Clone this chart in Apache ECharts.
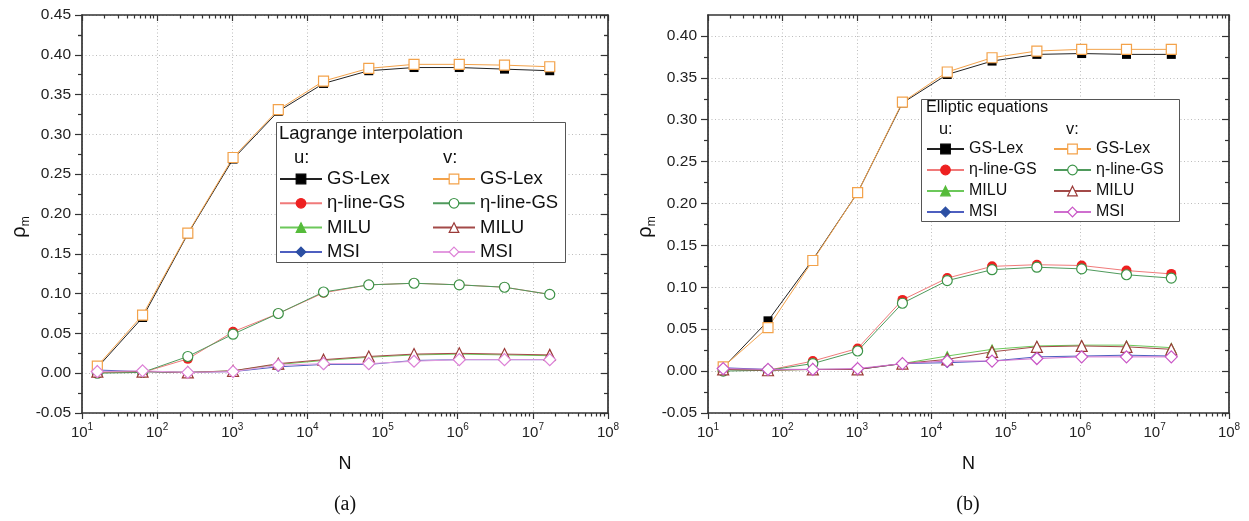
<!DOCTYPE html>
<html>
<head>
<meta charset="utf-8">
<script src="https://cdn.jsdelivr.net/npm/echarts@6/dist/echarts.min.js"></script>
<style>
html,body{margin:0;padding:0;background:#fff;}
#chart{width:1249px;height:521px;}
</style>
</head>
<body>
<div id="chart"></div>
<script>
// ---------------- data ----------------
const N = [16, 64, 256, 1024, 4096, 16384, 65536, 262144, 1048576, 4194304, 16777216];

// panel (a): Lagrange interpolation
const aGsU   = [0.007, 0.070, 0.175, 0.269, 0.329, 0.364, 0.380, 0.384, 0.384, 0.382, 0.380];
const aGsV   = [0.009, 0.073, 0.176, 0.271, 0.331, 0.367, 0.383, 0.388, 0.388, 0.387, 0.385];
const aEtaU  = [0.001, 0.001, 0.018, 0.052, 0.075, 0.101, 0.111, 0.113, 0.111, 0.108, 0.099];
const aEtaV  = [0.000, 0.001, 0.021, 0.049, 0.075, 0.102, 0.111, 0.113, 0.111, 0.108, 0.099];
const aMiluU = [0.002, 0.002, 0.001, 0.003, 0.011, 0.016, 0.020, 0.023, 0.024, 0.023, 0.022];
const aMiluV = [0.002, 0.002, 0.001, 0.003, 0.012, 0.017, 0.021, 0.024, 0.025, 0.024, 0.023];
const aMsiU  = [0.004, 0.002, 0.001, 0.002, 0.008, 0.011, 0.011, 0.016, 0.017, 0.017, 0.017];
const aMsiV  = [0.002, 0.003, 0.001, 0.002, 0.010, 0.012, 0.012, 0.015, 0.017, 0.017, 0.017];

// panel (b): Elliptic equations
const bGsU   = [0.004, 0.060, 0.133, 0.213, 0.320, 0.354, 0.370, 0.378, 0.379, 0.378, 0.378];
const bGsV   = [0.005, 0.052, 0.132, 0.213, 0.321, 0.357, 0.374, 0.382, 0.384, 0.384, 0.384];
const bEtaU  = [0.002, 0.001, 0.012, 0.027, 0.085, 0.111, 0.125, 0.127, 0.126, 0.120, 0.116];
const bEtaV  = [0.000, 0.001, 0.009, 0.024, 0.081, 0.108, 0.121, 0.124, 0.122, 0.115, 0.111];
const bMiluU = [0.002, 0.001, 0.002, 0.002, 0.009, 0.018, 0.026, 0.030, 0.031, 0.031, 0.028];
const bMiluV = [0.002, 0.001, 0.002, 0.002, 0.009, 0.014, 0.023, 0.029, 0.030, 0.029, 0.026];
const bMsiU  = [0.004, 0.002, 0.002, 0.002, 0.009, 0.010, 0.012, 0.017, 0.018, 0.019, 0.018];
const bMsiV  = [0.003, 0.002, 0.002, 0.003, 0.009, 0.012, 0.012, 0.015, 0.017, 0.017, 0.017];

// ticks
const xMajor = [10, 100, 1000, 10000, 100000, 1000000, 10000000, 100000000];
const yMajorA = [-0.05, 0.00, 0.05, 0.10, 0.15, 0.20, 0.25, 0.30, 0.35, 0.40, 0.45];
const yMajorB = [-0.05, 0.00, 0.05, 0.10, 0.15, 0.20, 0.25, 0.30, 0.35, 0.40];
const methods = ['GS-Lex', 'η-line-GS', 'MILU', 'MSI'];

// minor ticks derived from the majors
const xMinor = [];
for (let i = 0; i < xMajor.length - 1; i++) for (let k = 2; k <= 9; k++) xMinor.push(xMajor[i] * k);
const yMinorA = []; for (let i = 0; i < yMajorA.length - 1; i++) yMinorA.push((yMajorA[i] + yMajorA[i + 1]) / 2);
yMinorA.push(0.425);
const yMinorB = []; for (let i = 0; i < yMajorB.length - 1; i++) yMinorB.push((yMajorB[i] + yMajorB[i + 1]) / 2);

// ---------------- styling helpers ----------------
const FF = '"Liberation Sans", Arial, sans-serif';
const AX = '#333';
const tickStyle = { color: AX, width: 1.2 };
const gridLine = { type: [1, 2.5], color: '#bdbdbd', width: 1 };

function xAxesFor(g) {
  const c = { type: 'log', logBase: 10, min: 10, max: 100000000, gridIndex: g };
  return [
    Object.assign({}, c, {
      position: 'bottom', name: 'N', nameLocation: 'middle', nameGap: 42,
      nameTextStyle: { fontSize: 18, color: '#111', fontFamily: FF },
      axisLine: { show: true, onZero: false, lineStyle: { color: AX, width: 1.7 } },
      axisTick: { show: true, inside: false, length: 6, customValues: xMajor, lineStyle: tickStyle },
      axisLabel: {
        customValues: xMajor, margin: 9, color: '#222', fontFamily: FF,
        formatter: v => '{b|10}{s|' + Math.round(Math.log10(v)) + '}',
        rich: {
          b: { fontSize: 15, fontFamily: FF, color: '#222', lineHeight: 18, verticalAlign: 'bottom' },
          s: { fontSize: 10, fontFamily: FF, color: '#222', lineHeight: 10, verticalAlign: 'top' }
        }
      },
      splitLine: { show: true, lineStyle: gridLine }
    }),
    Object.assign({}, c, {
      position: 'bottom',
      axisLine: { show: false, onZero: false },
      axisTick: { show: true, inside: false, length: 3.5, customValues: xMinor, lineStyle: tickStyle },
      axisLabel: { show: false }, splitLine: { show: false }
    }),
    Object.assign({}, c, {
      position: 'top',
      axisLine: { show: true, onZero: false, lineStyle: { color: AX, width: 1.7 } },
      axisTick: { show: true, inside: true, length: 6, customValues: xMajor, lineStyle: tickStyle },
      axisLabel: { show: false }, splitLine: { show: false }
    }),
    Object.assign({}, c, {
      position: 'top',
      axisLine: { show: false, onZero: false },
      axisTick: { show: true, inside: true, length: 3.5, customValues: xMinor, lineStyle: tickStyle },
      axisLabel: { show: false }, splitLine: { show: false }
    })
  ];
}

function yAxesFor(g, max, major, minor, gap) {
  const c = { type: 'value', min: -0.05, max: max, gridIndex: g };
  return [
    Object.assign({}, c, {
      position: 'left',
      name: '{r|ρ}{m|m}', nameLocation: 'middle', nameGap: gap, nameRotate: 90,
      nameTextStyle: {
        padding: [0, 26, 0, 0],
        rich: {
          r: { fontSize: 20, fontFamily: FF, color: '#111', lineHeight: 22, verticalAlign: 'top' },
          m: { fontSize: 12, fontFamily: FF, color: '#111', lineHeight: 12, verticalAlign: 'bottom' }
        }
      },
      axisLine: { show: true, onZero: false, lineStyle: { color: AX, width: 1.7 } },
      axisTick: { show: true, inside: false, length: 7, customValues: major, lineStyle: tickStyle },
      axisLabel: { customValues: major, margin: 11, fontSize: 15.5, color: '#222', fontFamily: FF,
                   formatter: v => v.toFixed(2) },
      splitLine: { show: true, lineStyle: gridLine }
    }),
    Object.assign({}, c, {
      position: 'left',
      axisLine: { show: false, onZero: false },
      axisTick: { show: true, inside: false, length: 4, customValues: minor, lineStyle: tickStyle },
      axisLabel: { show: false }, splitLine: { show: false }
    }),
    Object.assign({}, c, {
      position: 'right',
      axisLine: { show: true, onZero: false, lineStyle: { color: AX, width: 1.7 } },
      axisTick: { show: true, inside: true, length: 7, customValues: major, lineStyle: tickStyle },
      axisLabel: { show: false }, splitLine: { show: false }
    }),
    Object.assign({}, c, {
      position: 'right',
      axisLine: { show: false, onZero: false },
      axisTick: { show: true, inside: true, length: 4, customValues: minor, lineStyle: tickStyle },
      axisLabel: { show: false }, splitLine: { show: false }
    })
  ];
}

function mk(g, key, vals, symbol, size, color, lineColor, empty) {
  return {
    type: 'line', name: key,
    xAxisIndex: g * 4, yAxisIndex: g * 4,
    data: N.map((n, i) => [n, vals[i]]),
    symbol: symbol, symbolSize: size, showSymbol: true,
    lineStyle: { color: lineColor, width: 1 },
    itemStyle: empty ? { color: '#ffffff', borderColor: color, borderWidth: 1.2 }
                     : { color: color, borderColor: color, borderWidth: 0 },
    emphasis: { disabled: true },
    animation: false, z: 2
  };
}

// series styles per method (u filled, v open)
const uSym = ['rect', 'circle', 'triangle', 'diamond'];
const uSize = [9, 10, 11, 11];
const uCol = ['#000000', '#ee2020', '#55bb3a', '#2c4fa3'];
const uLine = ['#222222', '#f07a7a', '#6cc85a', '#4e5fc0'];
const vCol = ['#f3a24a', '#3c9448', '#9b3a38', '#dd80d6'];
const vLine = ['#f3a24a', '#4f9a5c', '#a34a48', '#e39be0'];
const vColB = ['#f3a24a', '#3c9448', '#9b3a38', '#c955c6'];
const vLineB = ['#f3a24a', '#4f9a5c', '#a34a48', '#cf6fcf'];
const vSize = [10, 10, 11, 12];

const aU = [aGsU, aEtaU, aMiluU, aMsiU], aV = [aGsV, aEtaV, aMiluV, aMsiV];
const bU = [bGsU, bEtaU, bMiluU, bMsiU], bV = [bGsV, bEtaV, bMiluV, bMsiV];

const series = [];
const names = { au: [], av: [], bu: [], bv: [] };
[[0, 'a', aU, aV, vCol, vLine], [1, 'b', bU, bV, vColB, vLineB]].forEach(([g, p, U, V, vc, vl]) => {
  methods.forEach((m, i) => {
    const k = p + 'u|' + m; names[p + 'u'].push(k);
    series.push(mk(g, k, U[i], uSym[i], uSize[i], uCol[i], uLine[i], false));
  });
  methods.forEach((m, i) => {
    const k = p + 'v|' + m; names[p + 'v'].push(k);
    series.push(mk(g, k, V[i], uSym[i], vSize[i], vc[i], vl[i], true));
  });
});

function legend(data, left, top, w, h, gap, fs, lh) {
  return {
    orient: 'vertical', left: left, top: top, padding: 0,
    itemWidth: w, itemHeight: h, itemGap: gap,
    data: data, selectedMode: false,
    formatter: n => n.split('|')[1],
    itemStyle: { borderWidth: 1.2 },
    textStyle: { fontSize: fs, lineHeight: lh, color: '#111', fontFamily: FF },
    z: 6
  };
}

const txt = (t, x, y, fs) => ({
  type: 'text', z: 7,
  style: { text: t, x: x, y: y, fill: '#111', font: fs + 'px ' + FF, verticalAlign: 'middle', align: 'left' }
});

const option = {
  backgroundColor: '#fff',
  animation: false,
  grid: [
    { left: 82, top: 15, width: 526, height: 398 },
    { left: 708, top: 15, width: 521, height: 398 }
  ],
  xAxis: xAxesFor(0).concat(xAxesFor(1)),
  yAxis: yAxesFor(0, 0.45, yMajorA, yMinorA, 36).concat(yAxesFor(1, 0.425, yMajorB, yMinorB, 36)),
  legend: [
    legend(names.au, 279, 169, 42, 12, 4.3, 18.5, 20),
    legend(names.av, 432, 169, 42, 12, 4.3, 18.5, 20),
    legend(names.bu, 926, 140, 37, 12, 3, 16, 18),
    legend(names.bv, 1053, 140, 37, 12, 3, 16, 18)
  ],
  graphic: [
    { type: 'rect', z: 5, shape: { x: 276.5, y: 122.5, width: 289, height: 140 },
      style: { fill: '#fff', stroke: '#555', lineWidth: 1 } },
    txt('Lagrange interpolation', 279, 134, 18.5),
    txt('u:', 294, 158, 18.5),
    txt('v:', 443, 158, 18.5),
    { type: 'rect', z: 5, shape: { x: 921.5, y: 99.5, width: 258, height: 122 },
      style: { fill: '#fff', stroke: '#555', lineWidth: 1 } },
    txt('Elliptic equations', 926, 108, 16.3),
    txt('u:', 939, 130, 16.3),
    txt('v:', 1066, 130, 16.3),
    { type: 'text', z: 7, style: { text: '(a)', x: 345, y: 505, fill: '#111', font: '20px "Liberation Serif", serif', align: 'center', verticalAlign: 'middle' } },
    { type: 'text', z: 7, style: { text: '(b)', x: 968, y: 505, fill: '#111', font: '20px "Liberation Serif", serif', align: 'center', verticalAlign: 'middle' } }
  ],
  series: series
};

const chart = echarts.init(document.getElementById('chart'), null, { renderer: 'canvas' });
chart.setOption(option);
</script>
</body>
</html>
